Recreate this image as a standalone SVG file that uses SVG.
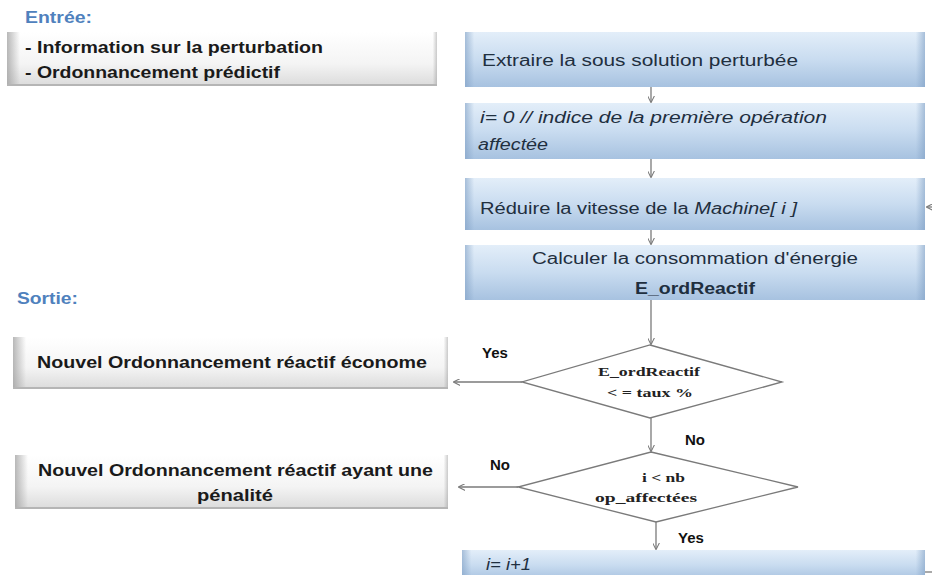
<svg xmlns="http://www.w3.org/2000/svg" width="932" height="575" viewBox="0 0 932 575">
<style>
.lbl{font-family:"Liberation Sans",Arial,sans-serif;fill:#4f81bd;font-weight:bold;font-size:17px}
.bt{font-family:"Liberation Sans",Arial,sans-serif;fill:#1a1a1a;font-weight:bold;font-size:16px}
.pt{font-family:"Liberation Sans",Arial,sans-serif;fill:#1f2f3f;font-size:16px}
.it{font-style:italic}
.dt{font-family:"Liberation Serif","Times New Roman",serif;fill:#222;font-weight:bold;font-size:13px}
.yn{font-family:"Liberation Sans",Arial,sans-serif;fill:#111;font-weight:bold;font-size:15px}
.con{stroke:#7a7a7a;stroke-width:1.3;fill:none}
.dia{fill:#fff;stroke:#7a7a7a;stroke-width:1.3}
.blue{fill:url(#gb)}
.gray{fill:url(#gg)}
</style>
<defs>
<linearGradient id="gb" x1="0" y1="0" x2="0" y2="1">
<stop offset="0" stop-color="#e3eef9"/>
<stop offset="0.5" stop-color="#c9dcf0"/>
<stop offset="1" stop-color="#a7c2e0"/>
</linearGradient>
<linearGradient id="gbs" x1="0" y1="0" x2="1" y2="0">
<stop offset="0" stop-color="#7f9fc4" stop-opacity="0.6"/>
<stop offset="0.02" stop-color="#7f9fc4" stop-opacity="0"/>
<stop offset="0.98" stop-color="#7f9fc4" stop-opacity="0"/>
<stop offset="1" stop-color="#7f9fc4" stop-opacity="0.6"/>
</linearGradient>
<linearGradient id="gg" x1="0" y1="0" x2="0" y2="1">
<stop offset="0" stop-color="#ffffff"/>
<stop offset="0.6" stop-color="#f4f4f4"/>
<stop offset="1" stop-color="#dcdcdc"/>
</linearGradient>
<linearGradient id="ggs" x1="0" y1="0" x2="1" y2="0">
<stop offset="0" stop-color="#9a9a9a" stop-opacity="0.7"/>
<stop offset="0.03" stop-color="#9a9a9a" stop-opacity="0"/>
<stop offset="0.99" stop-color="#9a9a9a" stop-opacity="0"/>
<stop offset="1" stop-color="#9a9a9a" stop-opacity="0.5"/>
</linearGradient>
<marker id="ah" viewBox="0 0 10 10" refX="9" refY="5" markerWidth="7" markerHeight="7" orient="auto-start-reverse" markerUnits="userSpaceOnUse">
<path d="M0,0 L10,5 L0,10" fill="none" stroke="#7a7a7a" stroke-width="1.5"/>
</marker>
</defs>
<rect width="932" height="575" fill="#fff"/>

<g id="entree">
<text class="lbl" x="25" y="23" textLength="67" lengthAdjust="spacingAndGlyphs">Entrée:</text>
<rect class="gray" x="7" y="32" width="430" height="53"/>
<rect x="7" y="32" width="430" height="53" fill="url(#ggs)"/>
<line x1="7" y1="85" x2="437" y2="85" stroke="#b5b5b5" stroke-width="2"/>
<text class="bt" x="25" y="53" textLength="298" lengthAdjust="spacingAndGlyphs">- Information sur la perturbation</text>
<text class="bt" x="25" y="78" textLength="255" lengthAdjust="spacingAndGlyphs">- Ordonnancement prédictif</text>
</g>

<g id="sortie">
<text class="lbl" x="17" y="304" textLength="61" lengthAdjust="spacingAndGlyphs">Sortie:</text>
</g>

<g id="out1">
<rect class="gray" x="13" y="337" width="435" height="51"/>
<rect x="13" y="337" width="435" height="51" fill="url(#ggs)"/>
<line x1="13" y1="388" x2="448" y2="388" stroke="#b5b5b5" stroke-width="2"/>
<text class="bt" x="37" y="368" textLength="390" lengthAdjust="spacingAndGlyphs">Nouvel Ordonnancement réactif économe</text>
</g>

<g id="out2">
<rect class="gray" x="15" y="455" width="433" height="53"/>
<rect x="15" y="455" width="433" height="53" fill="url(#ggs)"/>
<line x1="15" y1="508" x2="448" y2="508" stroke="#b5b5b5" stroke-width="2"/>
<text class="bt" x="38" y="476" textLength="395" lengthAdjust="spacingAndGlyphs">Nouvel Ordonnancement réactif ayant une</text>
<text class="bt" x="197" y="501" textLength="76" lengthAdjust="spacingAndGlyphs">pénalité</text>
</g>

<g id="b1">
<rect class="blue" x="465" y="32" width="460" height="55"/>
<rect x="465" y="32" width="460" height="55" fill="url(#gbs)"/>
<text class="pt" x="482" y="66" textLength="316" lengthAdjust="spacingAndGlyphs">Extraire  la sous solution perturbée</text>
</g>

<g id="b2">
<rect class="blue" x="465" y="103" width="460" height="56"/>
<rect x="465" y="103" width="460" height="56" fill="url(#gbs)"/>
<text class="pt it" x="480" y="123" textLength="347" lengthAdjust="spacingAndGlyphs">i= 0  // indice de la première opération</text>
<text class="pt it" x="478" y="150" textLength="70" lengthAdjust="spacingAndGlyphs">affectée</text>
</g>

<g id="b3">
<rect class="blue" x="465" y="178" width="460" height="52"/>
<rect x="465" y="178" width="460" height="52" fill="url(#gbs)"/>
<text class="pt" x="480" y="214" textLength="317" lengthAdjust="spacingAndGlyphs">Réduire la vitesse de la <tspan class="it">Machine[ i ]</tspan></text>
</g>

<g id="b4">
<rect class="blue" x="465" y="245" width="460" height="55"/>
<rect x="465" y="245" width="460" height="55" fill="url(#gbs)"/>
<text class="pt" x="532" y="264" textLength="326" lengthAdjust="spacingAndGlyphs">Calculer la consommation d'énergie</text>
<text class="pt" x="635" y="294" font-weight="bold" textLength="120" lengthAdjust="spacingAndGlyphs">E_ordReactif</text>
</g>

<g id="d1">
<polygon class="dia" points="650,345 782,382 650,418 522,382"/>
<text class="dt" x="598" y="376" textLength="102" lengthAdjust="spacingAndGlyphs">E_ordReactif</text>
<text class="dt" x="607" y="397" textLength="86" lengthAdjust="spacingAndGlyphs">&lt; = taux %</text>
</g>

<g id="d2">
<polygon class="dia" points="651,452 798,487 656,522 518,487"/>
<text class="dt" x="642" y="482" textLength="43" lengthAdjust="spacingAndGlyphs">i &lt; nb</text>
<text class="dt" x="595" y="502" textLength="102" lengthAdjust="spacingAndGlyphs">op_affectées</text>
</g>

<g id="b5">
<rect class="blue" x="462" y="550" width="463" height="30"/>
<rect x="462" y="550" width="463" height="30" fill="url(#gbs)"/>
<text class="pt it" x="486" y="570" textLength="45" lengthAdjust="spacingAndGlyphs">i= i+1</text>
</g>

<g id="connectors">
<line class="con" x1="651" y1="87" x2="651" y2="102" marker-end="url(#ah)"/>
<line class="con" x1="651" y1="159" x2="651" y2="177" marker-end="url(#ah)"/>
<line class="con" x1="651" y1="230" x2="651" y2="244" marker-end="url(#ah)"/>
<line class="con" x1="651" y1="300" x2="651" y2="344" marker-end="url(#ah)"/>
<line class="con" x1="522" y1="382" x2="454" y2="382" marker-end="url(#ah)"/>
<line class="con" x1="651" y1="418" x2="651" y2="451" marker-end="url(#ah)"/>
<line class="con" x1="518" y1="487" x2="459" y2="487" marker-end="url(#ah)"/>
<line class="con" x1="656" y1="522" x2="656" y2="549" marker-end="url(#ah)"/>
<line class="con" x1="936" y1="207" x2="927" y2="207" marker-end="url(#ah)"/>
<line class="con" x1="925" y1="572" x2="936" y2="572"/>
<text class="yn" x="482" y="358">Yes</text>
<text class="yn" x="685" y="445">No</text>
<text class="yn" x="490" y="470">No</text>
<text class="yn" x="678" y="543">Yes</text>
</g>
</svg>
